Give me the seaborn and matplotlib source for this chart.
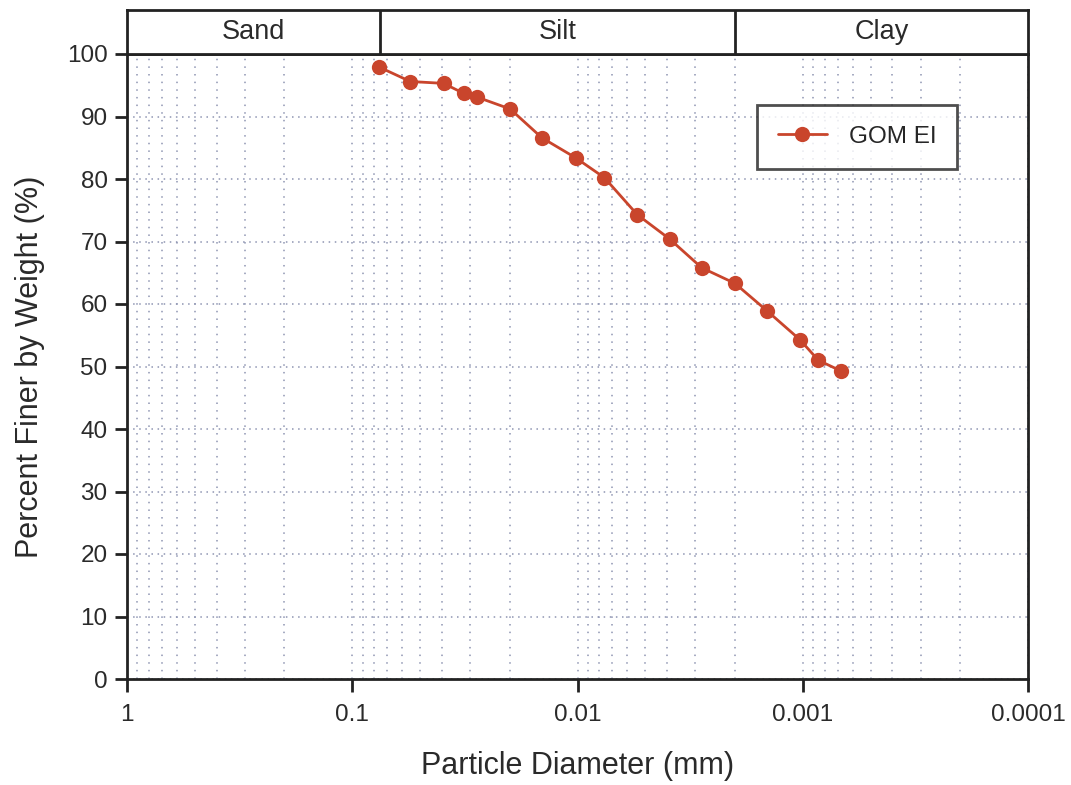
import numpy as np
import pandas as pd
import matplotlib
matplotlib.use("Agg")
import matplotlib.pyplot as plt
from matplotlib.ticker import FixedLocator, FixedFormatter, NullFormatter
import seaborn as sns

# ---- data ----
diameter_mm = [0.0759, 0.0552, 0.0393, 0.0320, 0.0279, 0.0199, 0.0144, 0.0102,
               0.00759, 0.00543, 0.0039, 0.00281, 0.0020, 0.00144, 0.00103,
               0.000853, 0.000678]
percent_finer = [97.9, 95.6, 95.3, 93.7, 93.1, 91.2, 86.6, 83.4,
                 80.2, 74.3, 70.4, 65.8, 63.3, 58.9, 54.3, 51.0, 49.3]
series_name = "GOM EI"

x_ticks = [1, 0.1, 0.01, 0.001, 0.0001]
x_tick_labels = ["1", "0.1", "0.01", "0.001", "0.0001"]
y_ticks = [0, 10, 20, 30, 40, 50, 60, 70, 80, 90, 100]

band_labels = ["Sand", "Silt", "Clay"]
band_edges = [1, 0.075, 0.002, 0.0001]

df = pd.DataFrame({"d": diameter_mm, "p": percent_finer, "s": series_name})

sns.set_theme(style="white")
plt.rcParams['font.family'] = ['Liberation Sans', 'DejaVu Sans']

red = "#C9452C"
grid_c = "#8E95B2"
dark = "#222222"
txt = "#2a2a2a"

fig = plt.figure(figsize=(10.71, 7.85), dpi=100)
ax = fig.add_axes([127/1071, 1 - 679/785, (1028-127)/1071, (679-54)/785])

ax.set_xscale("log")
ax.set_xlim(1, 0.0001)
ax.set_ylim(0, 100)

# grid
ax.xaxis.set_minor_locator(matplotlib.ticker.LogLocator(base=10, subs=np.arange(2, 10)))
ax.xaxis.set_minor_formatter(NullFormatter())
ax.grid(True, which="both", axis="x", color=grid_c, linestyle=(0, (1, 4)), linewidth=1.1)
ax.grid(True, which="major", axis="y", color=grid_c, linestyle=(0, (1, 3)), linewidth=1.1)
ax.set_axisbelow(True)

sns.lineplot(data=df, x="d", y="p", hue="s", palette=[red], marker="o",
             markersize=11, markeredgewidth=0, linewidth=2, ax=ax,
             estimator=None, sort=False)

ax.xaxis.set_major_locator(FixedLocator(x_ticks))
ax.xaxis.set_major_formatter(FixedFormatter(x_tick_labels))
ax.set_yticks(y_ticks)
ax.tick_params(axis="both", which="major", direction="out", length=9, width=2,
               color=dark, labelsize=17.5, labelcolor=txt, bottom=True, left=True)
ax.tick_params(axis="x", which="major", pad=9)
ax.tick_params(axis="y", which="major", pad=5)
ax.tick_params(axis="x", which="minor", length=0)

for sp in ax.spines.values():
    sp.set_visible(True)
    sp.set_color(dark)
    sp.set_linewidth(2)

ax.set_xlabel("Particle Diameter (mm)", fontsize=22, color=txt, labelpad=18)
ax.set_ylabel("Percent Finer by Weight (%)", fontsize=22, color=txt, labelpad=16)

leg = ax.legend(loc="upper right", bbox_to_anchor=(0.921, 0.918), fontsize=17.5,
                frameon=True, fancybox=False, handlelength=2.0, borderpad=0.85,
                borderaxespad=0, handletextpad=0.9)
leg.get_frame().set_edgecolor(dark)
leg.get_frame().set_linewidth(2)

# top band with soil classes
bax = fig.add_axes([127/1071, 1 - 54/785, (1028-127)/1071, (54-10)/785])
bax.set_xscale("log")
bax.set_xlim(1, 0.0001)
bax.set_ylim(0, 1)
bax.set_xticks([])
bax.set_yticks([])
bax.minorticks_off()
for sp in bax.spines.values():
    sp.set_visible(True)
    sp.set_color(dark)
    sp.set_linewidth(2)
for e in band_edges[1:-1]:
    bax.axvline(e, color=dark, linewidth=2)
for i, lab in enumerate(band_labels):
    xc = np.sqrt(band_edges[i] * band_edges[i + 1])
    bax.text(xc, 0.5, lab, ha="center", va="center", fontsize=19.5, color=txt)

fig.savefig("out.png", dpi=100, facecolor="white")
